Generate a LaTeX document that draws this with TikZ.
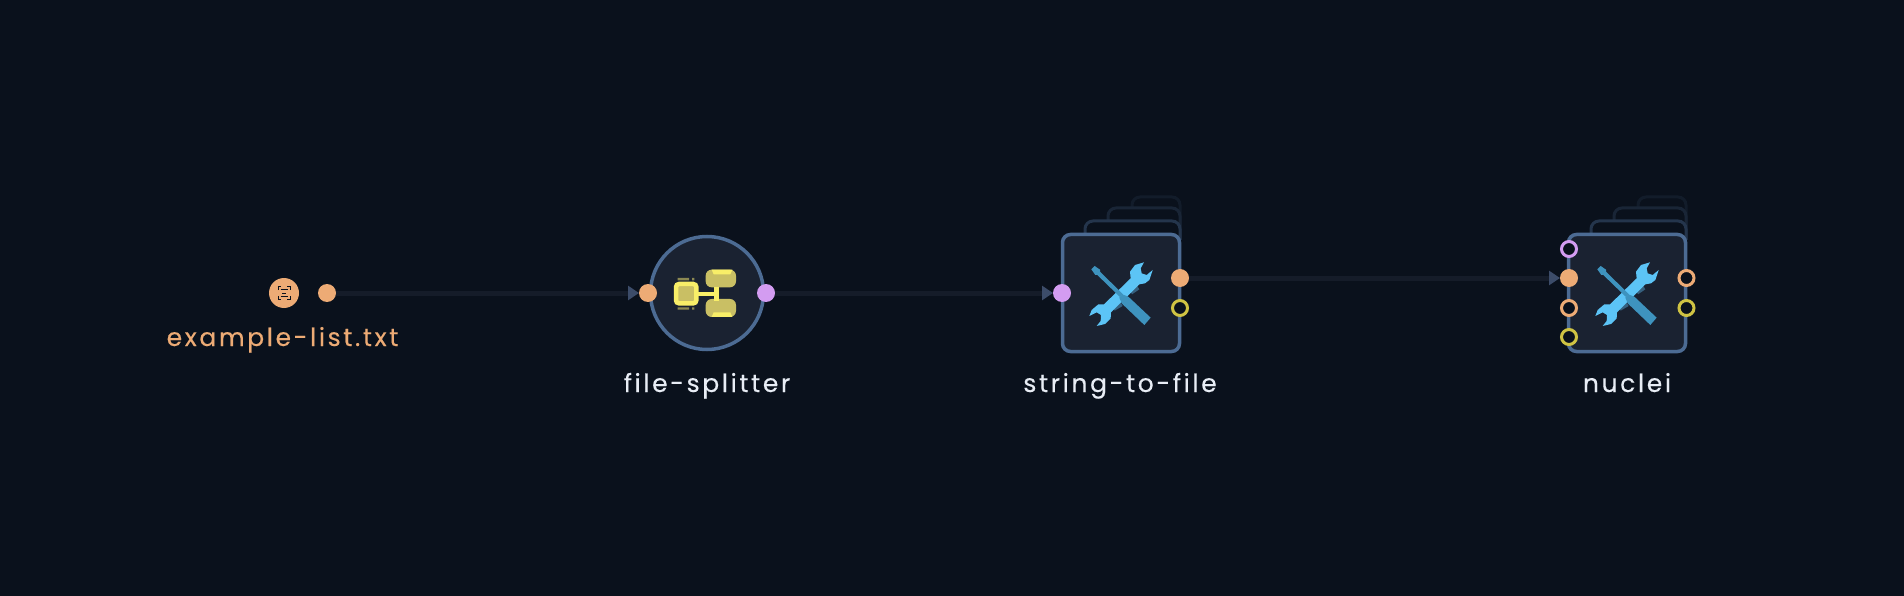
\documentclass[tikz,border=0pt]{standalone}
\usepackage{fontspec}
\usepackage{xcolor}
\setmainfont{Poppins}[LetterSpace=10.5,FakeBold=0.25]
\usetikzlibrary{arrows.meta}
\definecolor{canvas}{HTML}{0A111C}
\definecolor{panel}{HTML}{1A2231}
\definecolor{rim}{HTML}{4C6B93}
\definecolor{wire}{HTML}{151C29}
\definecolor{tip}{HTML}{3C4C69}
\definecolor{orange}{HTML}{EDAB75}
\definecolor{violet}{HTML}{D39CF1}
\definecolor{olive}{HTML}{CFC343}
\definecolor{caption}{HTML}{E8EDF5}
\definecolor{bright}{HTML}{F8EE68}
\definecolor{dull}{HTML}{C9BF64}
\definecolor{sky}{HTML}{5CC4F6}
\definecolor{deepsky}{HTML}{3E93BE}
\definecolor{notch}{HTML}{35607F}
\tikzstyle{port} = [circle, minimum width=18pt, inner sep=0pt, outer sep=0pt]
\tikzset{full/.style={port, fill=#1},
    hollow/.style={port, minimum width=15pt, fill=canvas, draw=#1, line width=3pt, outer sep=1.5pt},
    link/.style={draw=wire, line width=5pt, -{Triangle[length=11pt,width=14pt,color=tip]}},
    title/.style={font=\fontsize{25}{29}\selectfont, text=caption, anchor=base},
    box/.style={minimum width=117pt, minimum height=117pt, rounded corners=8pt, fill=panel, draw=rim, line width=3.5pt},
    back/.style={line width=3pt, rounded corners=8pt, fill=canvas},
    toolicon/.pic={
        \begin{scope}[shift={(-41,-38)},scale=0.3333]
        \fill[notch] (98,155) -- (122,143) -- (128,153) -- (104,167) -- cycle;
        \fill[notch] (150,107) -- (172,93) -- (178,103) -- (156,118) -- cycle;
        \fill[sky] (192,22) -- (165,30) -- (150,50) -- (152,70) -- (72,148) -- (55,148) -- (35,165) -- (28,183)
            -- (50,172) -- (63,180) -- (62,198) -- (50,213) -- (75,207) -- (92,190) -- (93,172)
            -- (178,88) -- (195,85) -- (208,75) -- (218,45) -- (200,60) -- (185,55) -- (182,40) -- cycle;
        \fill[deepsky] (34,43) -- (44,33) -- (60,44) -- (60,50) -- (129,118) -- (120,126) -- (52,60) -- (46,60) -- cycle;
        \fill[deepsky] (127,118) -- (145,125) -- (212,188) -- (193,210) -- (125,145) -- (118,128) -- cycle;
        \end{scope}
    },
    splitticon/.pic={
        \begin{scope}[shift={(-42,-33)},scale=0.3333]
        \fill[dull, opacity=.65] (38,54) rectangle (72,61) (81,54) rectangle (88,61) (38,142) rectangle (72,149) (81,142) rectangle (88,149);
        \fill[dull, rounded corners=6pt] (122,29) rectangle (213,82);
        \fill[dull, rounded corners=6pt] (122,117) rectangle (213,171);
        \fill[bright] (140,29) -- (202,29) -- (196,43) -- (146,43) -- cycle;
        \fill[bright] (146,157) -- (196,157) -- (202,171) -- (140,171) -- cycle;
        \draw[bright, line width=4.5pt] (95,102) -- (155,102) (155,80) -- (155,122);
        \draw[bright, line width=4.5pt, fill=dull, rounded corners=3pt] (33,72) rectangle (94,130);
        \end{scope}
    }
}
\begin{document}
\begin{tikzpicture}[x=1pt,y=-1pt]
    \fill[canvas] (0,0) rectangle (1904,596);
    \useasboundingbox (0,0) rectangle (1904,596);
    % input
    \node[circle, fill=orange, minimum width=30pt, inner sep=0pt] (inicon) at (284,293) {};
    \draw[canvas, line width=1pt] (278,290) -- (278,286.5) -- (281,286.5) (287,286.5) -- (290,286.5) -- (290,290)
        (278,296) -- (278,299.5) -- (281,299.5) (287,299.5) -- (290,299.5) -- (290,296)
        (280.5,289.5) -- (287.5,289.5) (280.5,296.5) -- (287.5,296.5) (282,293) -- (286,293);
    \node[full=orange] (inport) at (327,293) {};
    \node[title, text=orange] (inlabel) at (282.5,346) {example-list.txt};
    % file-splitter
    \node[circle, minimum width=113pt, inner sep=0pt, fill=panel, draw=rim, line width=3.5pt] (splitter) at (707,293) {};
    \pic at (707,293) {splitticon};
    \node[full=orange] (splitin) at (648,293) {};
    \node[full=violet] (splitout) at (766,293) {};
    \node[title] (splitlabel) at (707,392) {file-splitter};
    % string-to-file
    \def\stackback#1{
        \draw[back, draw=rim!12!canvas] (#1+71,240) |- (#1+119,197) -- (#1+119,240);
        \draw[back, draw=rim!22!canvas] (#1+47,240) |- (#1+119,208) -- (#1+119,240);
        \draw[back, draw=rim!40!canvas] (#1+24,240) |- (#1+119,221) -- (#1+119,240);
    }
    \stackback{1061}
    \node[box] (stringfile) at (1121,293) {};
    \pic at (1121,293) {toolicon};
    \node[full=violet] (stringin) at (1062,293) {};
    \node[full=orange] (stringout) at (1180,278) {};
    \node[hollow=olive] (stringerr) at (1180,308) {};
    \node[title] (stringlabel) at (1120,392) {string-to-file};
    % nuclei
    \stackback{1567}
    \node[box] (nuclei) at (1627,293) {};
    \pic at (1627,293) {toolicon};
    \node[hollow=violet] (nucleiconf) at (1569,249) {};
    \node[full=orange] (nucleiin) at (1569,278) {};
    \node[hollow=orange] (nucleilist) at (1569,308) {};
    \node[hollow=olive] (nucleifile) at (1569,337) {};
    \node[hollow=orange] (nucleiout) at (1686.5,278) {};
    \node[hollow=olive] (nucleierr) at (1686.5,308) {};
    \node[title] (nucleilabel) at (1627,392) {nuclei};
    % wires
    \draw[link] (inport) -- (splitin);
    \draw[link] (splitout) -- (stringin);
    \draw[link] (stringout) -- (nucleiin);
\end{tikzpicture}
\end{document}
